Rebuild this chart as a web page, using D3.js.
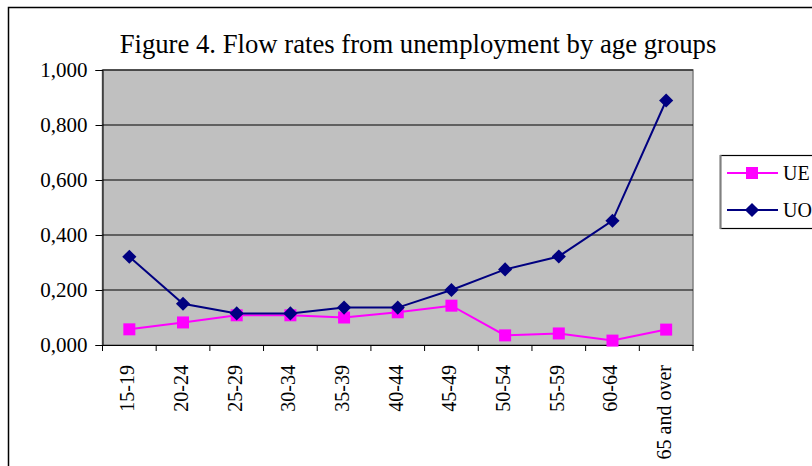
<!DOCTYPE html>
<html>
<head>
<meta charset="utf-8">
<script src="https://cdn.jsdelivr.net/npm/d3@7"></script>
<style>
  body { margin: 0; background: #fff; }
  svg { display: block; font-family: "Liberation Serif", "Times New Roman", serif; }
  svg text { font-family: "Liberation Serif", "Times New Roman", serif; }
</style>
</head>
<body>
<script>
// age groups and the two flow rates
const ageGroups = ["15-19", "20-24", "25-29", "30-34", "35-39", "40-44", "45-49", "50-54", "55-59", "60-64", "65 and over"];
const ueValues = [0.057, 0.082, 0.108, 0.108, 0.100, 0.119, 0.143, 0.035, 0.042, 0.016, 0.056];
const uoValues = [0.321, 0.150, 0.115, 0.115, 0.136, 0.136, 0.200, 0.275, 0.322, 0.452, 0.889];
const yTicks = [0, 0.2, 0.4, 0.6, 0.8, 1.0];

const series = [
  {name: "UE", values: ueValues, color: "#FF00FF", shape: "square"},
  {name: "UO", values: uoValues, color: "#000080", shape: "diamond"}
];

const outerWidth = 812, outerHeight = 466;
const margin = {top: 70, left: 102.5, right: 119, bottom: 121};
const width = outerWidth - margin.left - margin.right;
const height = outerHeight - margin.top - margin.bottom;

const outerSvg = d3.select("body").append("svg")
  .attr("width", outerWidth)
  .attr("height", outerHeight);

// chart frame (runs off the right and bottom of the picture)
outerSvg.append("rect")
  .attr("x", 8.5).attr("y", 7.5)
  .attr("width", 820).attr("height", 480)
  .attr("fill", "none").attr("stroke", "#000").attr("stroke-width", 1.5);

outerSvg.append("text")
  .attr("x", 418).attr("y", 53)
  .attr("text-anchor", "middle")
  .style("font-size", "26.7px")
  .text("Figure 4. Flow rates from unemployment by age groups");

const svg = outerSvg.append("g")
  .attr("transform", "translate(" + margin.left + "," + margin.top + ")");

const xScale = d3.scaleBand().domain(ageGroups).range([0, width]).padding(0);
const yScale = d3.scaleLinear().domain([0, 1]).range([height, 0]);

// plot area
svg.append("rect")
  .attr("width", width).attr("height", height)
  .attr("fill", "#C0C0C0").attr("stroke", "#808080").attr("stroke-width", 1.5);

// gridlines
svg.selectAll(".grid")
  .data(yTicks.filter(d => d > 0))
  .join("line")
  .attr("class", "grid")
  .attr("x1", 0).attr("x2", width)
  .attr("y1", d => yScale(d)).attr("y2", d => yScale(d))
  .attr("stroke", "#000").attr("stroke-width", 1);

// y axis
const yAxis = d3.axisLeft(yScale)
  .tickValues(yTicks)
  .tickSize(7)
  .tickPadding(8)
  .tickFormat(d => d3.format(".3f")(d).replace(".", ","));
const yg = svg.append("g").call(yAxis)
  .attr("font-family", null).attr("font-size", 21);
yg.select(".domain").attr("stroke", "#000");
yg.selectAll("text").attr("fill", "#000");

// x axis: labels at band centres, ticks at band edges
const xg = svg.append("g")
  .attr("transform", "translate(0," + height + ")")
  .call(d3.axisBottom(xScale).tickSize(0).tickPadding(0))
  .attr("font-family", null).attr("font-size", 20);
xg.select(".domain").attr("stroke", "#000");
xg.selectAll("text")
  .attr("fill", "#000")
  .attr("transform", "rotate(-90)")
  .attr("text-anchor", "end")
  .attr("x", -20).attr("y", -2).attr("dy", "0.35em");

const edges = ageGroups.map(d => xScale(d)).concat([width]);
xg.selectAll(".edge")
  .data(edges)
  .join("line")
  .attr("class", "edge")
  .attr("x1", d => d).attr("x2", d => d)
  .attr("y1", 0).attr("y2", 6)
  .attr("stroke", "#000");

const cx = d => xScale(d) + xScale.bandwidth() / 2;
const line = d3.line().x((d, i) => cx(ageGroups[i])).y(d => yScale(d));

const symbolFor = s => s === "square"
  ? d3.symbol().type(d3.symbolSquare).size(144)
  : d3.symbol().type(d3.symbolSquare).size(100);

series.forEach(s => {
  svg.append("path")
    .datum(s.values)
    .attr("d", line)
    .attr("fill", "none")
    .attr("stroke", s.color)
    .attr("stroke-width", 2);
  svg.selectAll(".pt-" + s.name)
    .data(s.values)
    .join("path")
    .attr("class", "pt-" + s.name)
    .attr("transform", (d, i) => "translate(" + cx(ageGroups[i]) + "," + yScale(d) + ")" + (s.shape === "diamond" ? " rotate(45)" : ""))
    .attr("d", symbolFor(s.shape))
    .attr("fill", s.color);
});

// legend
const legend = outerSvg.append("g").attr("transform", "translate(720,155)");
legend.append("rect")
  .attr("x", 0.5).attr("y", 0.5).attr("width", 110).attr("height", 73)
  .attr("fill", "#fff").attr("stroke", "#000").attr("stroke-width", 1.2);
legend.append("line")
  .attr("x1", 0.5).attr("x2", 0.5).attr("y1", 0).attr("y2", 74)
  .attr("stroke", "#808080").attr("stroke-width", 2);
const items = legend.selectAll(".item")
  .data(series)
  .join("g")
  .attr("class", "item")
  .attr("transform", (d, i) => "translate(0," + (18 + i * 37) + ")");
items.append("line")
  .attr("x1", 7).attr("x2", 58)
  .attr("stroke", d => d.color).attr("stroke-width", 2);
items.append("path")
  .attr("transform", d => "translate(32,0)" + (d.shape === "diamond" ? " rotate(45)" : ""))
  .attr("d", d => symbolFor(d.shape)())
  .attr("fill", d => d.color);
items.append("text")
  .attr("x", 63).attr("dy", "0.35em")
  .style("font-size", "20px")
  .text(d => d.name);
</script>
</body>
</html>
